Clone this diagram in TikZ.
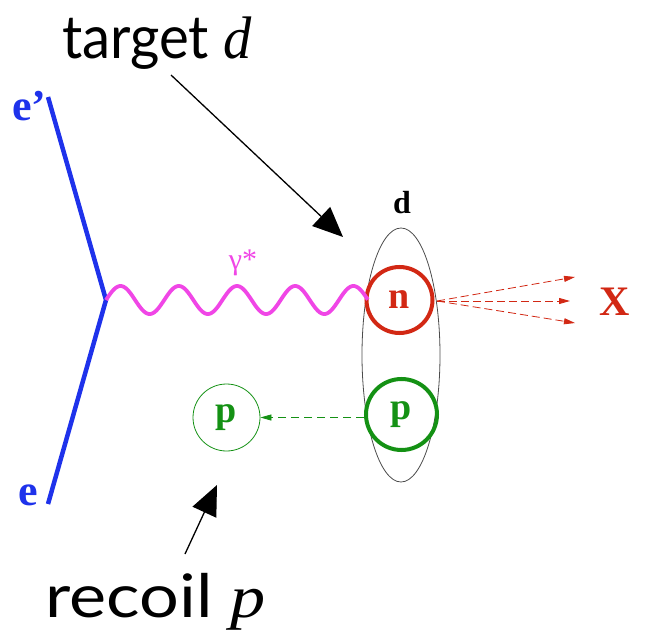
\documentclass[tikz,border=0pt]{standalone}
\usepackage{fontspec}
\setmainfont{Liberation Serif}
\newfontfamily\gillfont{Lato}
\usetikzlibrary{arrows.meta,shapes.geometric}
\definecolor{eblue}{RGB}{30,50,235}
\definecolor{gmag}{RGB}{240,70,230}
\definecolor{nred}{RGB}{210,40,20}
\definecolor{pgreen}{RGB}{20,145,20}
\tikzset{
  lbl/.style={inner sep=0pt, font=\bfseries},
  bigtxt/.style={inner sep=0pt, anchor=base west, font=\gillfont\fontsize{60}{66}\selectfont},
  nucleon/.style={circle, line width=4pt, minimum size=66pt, inner sep=0pt},
  ptr/.style={line width=1.3pt, -{Triangle[length=30pt,width=26pt]}},
  xarrow/.style={nred, line width=0.8pt, dash pattern=on 8pt off 4pt, -{Triangle[length=11pt,width=6pt]}},
}
\begin{document}
\begin{tikzpicture}[x=1pt,y=1pt]
\useasboundingbox (0,0) rectangle (649,-637);
% electron lines
\coordinate (etop) at (48,-97);
\coordinate (vtx) at (106,-300);
\coordinate (ebot) at (48,-504);
\draw[eblue, line width=4.5pt] (etop) -- (vtx) -- (ebot);
\node[lbl, eblue, font=\bfseries\fontsize{44}{48}\selectfont, anchor=base west] (eprime) at (12,-120) {e’};
\node[lbl, eblue, font=\bfseries\fontsize{44}{48}\selectfont, anchor=base west] (elab) at (18,-505) {e};
% deuteron
\node[draw=black!70, line width=0.8pt, ellipse, minimum width=78pt, minimum height=254pt, inner sep=0pt] (deut) at (401,-355) {};
\node[lbl, font=\bfseries\fontsize{32}{36}\selectfont, anchor=base] (dlab) at (402,-213) {d};
\node[nucleon, draw=nred, text=nred, minimum size=66pt] (n) at (399.5,-300) {\bfseries\fontsize{38}{40}\selectfont n};
\node[nucleon, draw=pgreen, text=pgreen, minimum size=71pt] (p) at (401.5,-414.5) {\bfseries\fontsize{38}{40}\selectfont p};
\node[circle, draw=pgreen, line width=0.8pt, minimum size=67pt, inner sep=0pt, text=pgreen] (prec) at (226.5,-417.5) {\bfseries\fontsize{38}{40}\selectfont p};
% photon
\draw[gmag, line width=3.8pt, line join=round] plot[domain=0:1, samples=240] ({106+262*\x}, {-300+14*sin(4.5*360*\x)});
\node[inner sep=0pt, text=gmag, font=\fontsize{30}{32}\selectfont] (gam) at (243,-263) {γ*};
% X products
\coordinate (xs) at (437,-301);
\coordinate (x1) at (575,-277);
\coordinate (x2) at (570,-301);
\coordinate (x3) at (575,-323);
\draw[xarrow] (xs) -- (x1);
\draw[xarrow] (xs) -- (x2);
\draw[xarrow] (xs) -- (x3);
\node[lbl, text=nred, font=\bfseries\fontsize{42}{44}\selectfont] (X) at (615,-302) {X};
% recoil arrow
\draw[pgreen, line width=0.8pt, dash pattern=on 8pt off 5pt, -{Triangle[length=11pt,width=6pt]}] (p.west |- prec.east) -- (prec.east);
% big labels
\node[bigtxt, xscale=0.94, transform shape] (target) at (62,-58) {target {\normalfont\itshape d}};
\node[bigtxt, xscale=1.17, transform shape] (recoil) at (45,-617) {recoil {\normalfont\itshape p}};
\coordinate (ta0) at (171,-75);
\coordinate (ta1) at (343,-237);
\draw[ptr] (ta0) -- (ta1);
\coordinate (ra0) at (185,-554);
\coordinate (ra1) at (217,-485);
\draw[ptr] (ra0) -- (ra1);
\end{tikzpicture}
\end{document}
